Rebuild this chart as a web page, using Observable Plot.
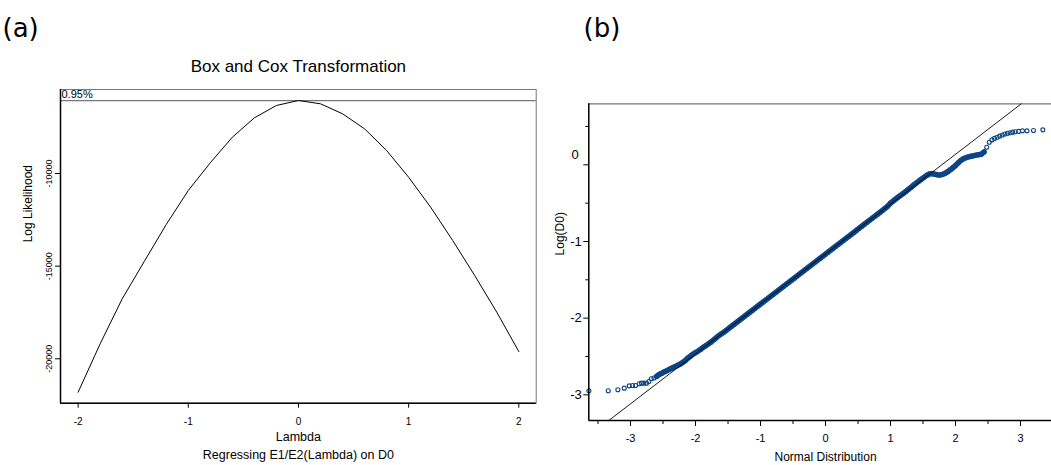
<!DOCTYPE html>
<html><head><meta charset="utf-8">
<script src="https://cdn.jsdelivr.net/npm/d3@7"></script>
<script src="https://cdn.jsdelivr.net/npm/@observablehq/plot@0.6"></script>
<style>
body{margin:0;background:#fff;}
#wrap{position:relative;width:1051px;height:465px;overflow:hidden;background:#fff;}
#pa,#pb{position:absolute;top:0;}
#pa{left:0;} #pb{left:545px;}
</style></head>
<body><div id="wrap"><div id="pa"></div><div id="pb"></div></div>
<script>
// ---------- Panel (a): Box-Cox log likelihood profile ----------
const panelA = "(a)";
const titleA = "Box and Cox Transformation";
const xLabelA = "Lambda";
const captionA = "Regressing E1/E2(Lambda) on D0";
const yLabelA = "Log Likelihood";
const ciLabel = "0.95%";
const lambda = [-2, -1.8, -1.6, -1.4, -1.2, -1, -0.8, -0.6, -0.4, -0.2, 0, 0.2, 0.4, 0.6, 0.8, 1, 1.2, 1.4, 1.6, 1.8, 2];
const logLik = [-21802, -19191, -16763, -14750, -12750, -10917, -9422, -8041, -6994, -6330, -6060, -6239, -6778, -7588, -8759, -10200, -11819, -13616, -15505, -17485, -19606];
const ciLevel = -6062;
const xTicksA = [-2, -1, 0, 1, 2];
const yTicksA = [-20000, -15000, -10000];
const xDomainA = [-2.16, 2.158];
const yDomainA = [-22396, -5467];

// ---------- Panel (b): normal QQ plot of Log(D0) ----------
const panelB = "(b)";
const xLabelB = "Normal Distribution";
const yLabelB = "Log(D0)";
const qqTheo = [
 -3.64, -3.343, -3.195, -3.097, -3.02, -2.969, -2.923, -2.866, -2.831, -2.795, -2.754, -2.718,
 -2.68, -2.64, -2.60, -2.56, -2.52, -2.48, -2.44, -2.40, -2.36, -2.32, -2.28, -2.24, -2.20, -2.16, -2.12, -2.08, -2.04, -2.00,
 -1.96, -1.92, -1.88, -1.84, -1.80, -1.76, -1.72, -1.68, -1.64, -1.60, -1.56, -1.52, -1.48, -1.44, -1.40, -1.36, -1.32, -1.28,
 -1.24, -1.20, -1.16, -1.12, -1.08, -1.04, -1.00, -0.96, -0.92, -0.88, -0.84, -0.80, -0.76, -0.72, -0.68, -0.64, -0.60, -0.56,
 -0.52, -0.48, -0.44, -0.40, -0.36, -0.32, -0.28, -0.24, -0.20, -0.16, -0.12, -0.08, -0.04, 0.00, 0.04, 0.08, 0.12, 0.16,
 0.20, 0.24, 0.28, 0.32, 0.36, 0.40, 0.44, 0.48, 0.52, 0.56, 0.60, 0.64, 0.68, 0.72, 0.76, 0.80, 0.84, 0.88, 0.92, 0.96,
 1.00, 1.04, 1.08, 1.12, 1.16, 1.20, 1.24, 1.28, 1.32, 1.36, 1.40, 1.44, 1.48, 1.52, 1.56, 1.60, 1.64, 1.68, 1.72, 1.76,
 1.80, 1.84, 1.88, 1.92, 1.96, 2.00, 2.04, 2.08, 2.12, 2.16, 2.20, 2.24, 2.28, 2.32, 2.36, 2.40, 2.44, 2.48, 2.52, 2.56,
 2.60, 2.64, 2.68, 2.72, 2.76, 2.80, 2.84, 2.88, 2.92, 2.97, 3.03, 3.10, 3.20, 3.344
];
const qqSample = [
 -2.947, -2.947, -2.934, -2.913, -2.883, -2.878, -2.878, -2.856, -2.848, -2.848, -2.848, -2.826,
 -2.79, -2.78, -2.76, -2.735, -2.718, -2.70, -2.685, -2.667, -2.65, -2.634, -2.617, -2.60, -2.58, -2.556, -2.522, -2.497, -2.47, -2.45,
 -2.428, -2.405, -2.38, -2.358, -2.335, -2.31, -2.283, -2.255, -2.226, -2.203, -2.18, -2.155, -2.128, -2.102, -2.076, -2.05, -2.024, -1.998,
 -1.972, -1.946, -1.92, -1.894, -1.868, -1.842, -1.816, -1.79, -1.764, -1.738, -1.712, -1.686, -1.66, -1.634, -1.608, -1.582, -1.556, -1.53,
 -1.504, -1.478, -1.451, -1.425, -1.399, -1.373, -1.347, -1.321, -1.295, -1.269, -1.243, -1.217, -1.191, -1.165, -1.139, -1.113, -1.087, -1.061,
 -1.035, -1.009, -0.983, -0.957, -0.931, -0.905, -0.879, -0.852, -0.826, -0.80, -0.774, -0.748, -0.722, -0.696, -0.67, -0.644, -0.618, -0.592, -0.564, -0.537,
 -0.50, -0.472, -0.446, -0.42, -0.395, -0.37, -0.344, -0.317, -0.29, -0.262, -0.236, -0.21, -0.185, -0.16, -0.136, -0.118, -0.115, -0.122, -0.13, -0.132,
 -0.125, -0.11, -0.09, -0.065, -0.038, -0.01, 0.025, 0.056, 0.078, 0.093, 0.104, 0.112, 0.12, 0.127, 0.133, 0.14, 0.168, 0.23, 0.295, 0.325,
 0.345, 0.36, 0.375, 0.39, 0.403, 0.412, 0.418, 0.426, 0.431, 0.436, 0.443, 0.443, 0.447, 0.456
];
const refLineX = [-3.334, 3.012];
const refLineY = [-3.335, 0.796];
const xTicksB = [-3, -2, -1, 0, 1, 2, 3];
const xMinorB = [-3.5, -2.5, -1.5, -0.5, 0.5, 1.5, 2.5];
const yTicksB = [-3, -2, -1, 0];
const yMinorB = [-2.5, -1.5, -0.5, 0.5];
const xDomainB = [-3.642, 3.477];
const yDomainB = [-3.335, 0.796];

const sans = "Liberation Sans, Arial, Helvetica, sans-serif";
const fmt = d => String(d);
const blue = "#0b4585";

const curve = lambda.map((l, i) => ({l, v: logLik[i]}));
const plotA = Plot.plot({
  width: 545, height: 465,
  marginLeft: 60, marginRight: 9.3, marginTop: 89, marginBottom: 62.3,
  style: {fontFamily: sans, fontSize: "10px", background: "white", color: "black", overflow: "visible"},
  x: {domain: xDomainA},
  y: {domain: yDomainA},
  marks: [
    Plot.frame({stroke: "#777", strokeWidth: 1}),
    Plot.ruleY([ciLevel], {stroke: "#777", strokeWidth: 1.2}),
    Plot.line(curve, {x: "l", y: "v", stroke: "black", strokeWidth: 1}),
    Plot.axisX(xTicksA, {tickSize: 5, tickPadding: 10, tickFormat: fmt, fontSize: 10, label: null}),
    Plot.axisY(yTicksA, {tickSize: 5, tickPadding: 4, tickRotate: -90, textAnchor: "middle", lineAnchor: "bottom", tickFormat: fmt, fontSize: 9, label: null}),
    Plot.ruleX([xDomainA[0]], {stroke: "black", strokeWidth: 1.5}),
    Plot.ruleY([yDomainA[0]], {stroke: "black", strokeWidth: 1.5}),
    Plot.text([ciLabel], {frameAnchor: "top-left", dx: 1, dy: 0.5, textAnchor: "start", lineAnchor: "top", fontSize: 11, fill: "black"}),
    Plot.text([titleA], {frameAnchor: "top", dy: -23, lineAnchor: "middle", fontSize: 17}),
    Plot.text([panelA], {frameAnchor: "top-left", dx: -58, dy: -61, textAnchor: "start", lineAnchor: "middle", fontSize: 26, fontFamily: "DejaVu Sans"}),
    Plot.text([xLabelA], {frameAnchor: "bottom", dy: 34, lineAnchor: "middle", fontSize: 12.5}),
    Plot.text([captionA], {frameAnchor: "bottom", dy: 51.3, lineAnchor: "middle", fontSize: 12.5}),
    Plot.text([yLabelA], {frameAnchor: "left", dx: -32, dy: -4, rotate: -90, lineAnchor: "middle", fontSize: 12})
  ]
});
document.getElementById("pa").append(plotA);

const qq = qqTheo.map((t, i) => ({t, s: qqSample[i]}));
const qqDense = qq.filter(d => d.t >= -2.6 && d.t <= 2.46);
const ref = refLineX.map((x, i) => ({x, y: refLineY[i]}));
const plotB = Plot.plot({
  width: 506, height: 465,
  marginLeft: 43.3, marginRight: 0, marginTop: 103.3, marginBottom: 45,
  style: {fontFamily: sans, fontSize: "11px", background: "white", color: "black", overflow: "visible"},
  x: {domain: xDomainB},
  y: {domain: yDomainB},
  marks: [
    Plot.ruleY([yDomainB[1]], {stroke: "#777", strokeWidth: 1.2}),
    Plot.dot(qq, {x: "t", y: "s", r: 2, stroke: blue, strokeWidth: 1.1, fill: "none"}),
    Plot.line(qqDense, {x: "t", y: "s", stroke: blue, strokeWidth: 5.5, strokeLinecap: "round", strokeLinejoin: "round"}),
    Plot.line(ref, {x: "x", y: "y", stroke: "black", strokeWidth: 0.9}),
    Plot.axisX(xMinorB, {tickSize: 4, tickFormat: () => "", label: null}),
    Plot.axisX(xTicksB, {tickSize: 6, tickPadding: 8, tickFormat: fmt, fontSize: 11, label: null}),
    Plot.axisY(yMinorB, {tickSize: 3, tickFormat: () => "", label: null}),
    Plot.axisY(yTicksB, {tickSize: 5, tickFormat: () => "", label: null}),
    Plot.axisY(yTicksB.filter(d => d !== 0), {tickSize: 0, tickPadding: 7, tickFormat: fmt, fontSize: 13, label: null}),
    Plot.axisY(yTicksB.filter(d => d === 0), {tickSize: 0, tickPadding: 10, dy: -10, tickFormat: fmt, fontSize: 13, label: null}),
    Plot.ruleX([xDomainB[0]], {stroke: "black", strokeWidth: 1.5}),
    Plot.ruleY([yDomainB[0]], {stroke: "black", strokeWidth: 1.5}),
    Plot.text([panelB], {frameAnchor: "top-left", dx: -5.3, dy: -74.8, textAnchor: "start", lineAnchor: "middle", fontSize: 26, fontFamily: "DejaVu Sans"}),
    Plot.text([xLabelB], {frameAnchor: "bottom", dx: 5.4, dy: 37, lineAnchor: "middle", fontSize: 12}),
    Plot.text([yLabelB], {frameAnchor: "left", dx: -28.3, dy: -6.7, rotate: -90, lineAnchor: "middle", fontSize: 12})
  ]
});
document.getElementById("pb").append(plotB);
</script>
</body></html>
